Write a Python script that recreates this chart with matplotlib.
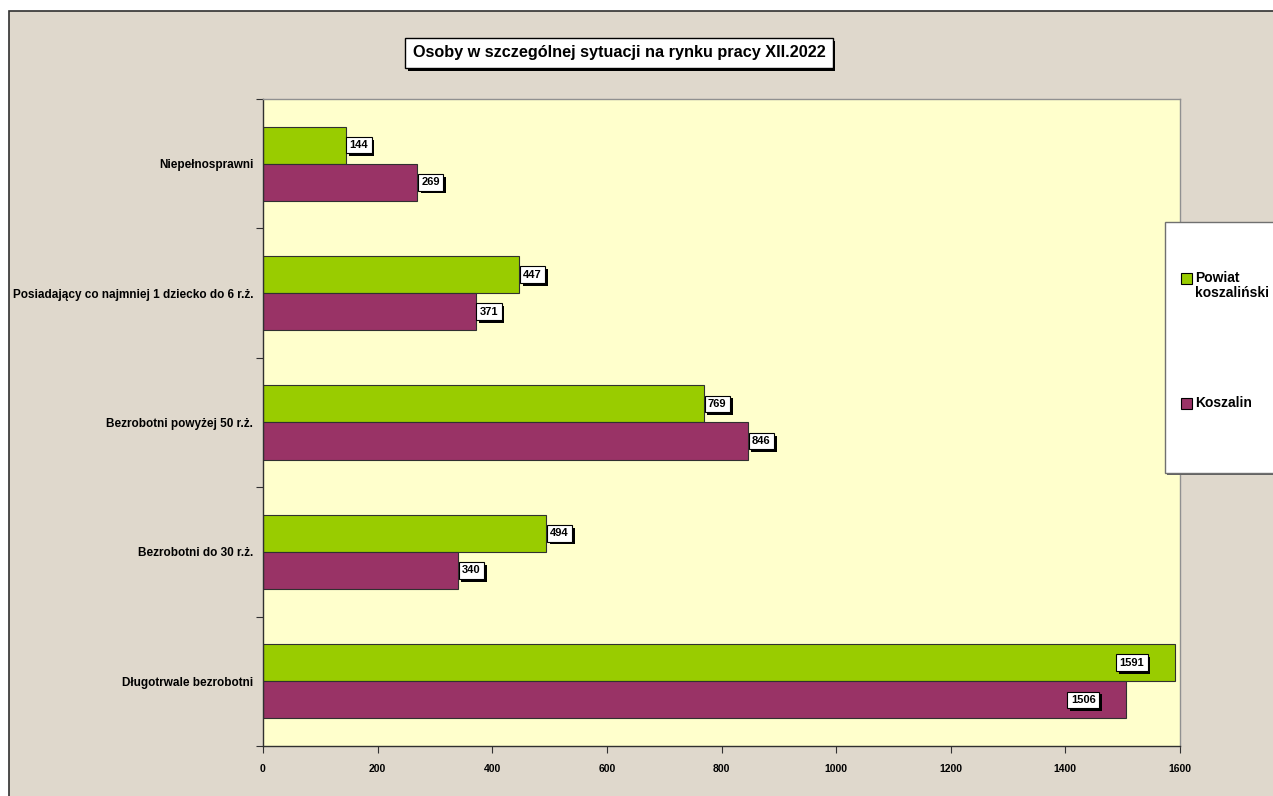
import matplotlib
matplotlib.use("Agg")
import matplotlib.pyplot as plt
from matplotlib.patches import Rectangle
import matplotlib.patheffects as pe
import numpy as np

categories = ["Niepełnosprawni",
              "Posiadający co najmniej 1 dziecko do 6 r.ż.",
              "Bezrobotni powyżej 50 r.ż.",
              "Bezrobotni do 30 r.ż.",
              "Długotrwale bezrobotni"]
powiat = [144, 447, 769, 494, 1591]
koszalin = [269, 371, 846, 340, 1506]
series_names = ["Powiat\nkoszaliński", "Koszalin"]
xticks = [0, 200, 400, 600, 800, 1000, 1200, 1400, 1600]
title = "Osoby w szczególnej sytuacji na rynku pracy XII.2022"

GREEN = "#99cc00"
PURPLE = "#993366"
BEIGE = "#dfd8cc"
PLOTBG = "#ffffcc"

plt.rcParams['font.family'] = ['Liberation Sans', 'DejaVu Sans']

W, H = 1273, 796
fig = plt.figure(figsize=(W/100, H/100), dpi=100)
fig.patch.set_facecolor("white")
fig.patches.append(Rectangle((9/W, -0.01), 1.0, 1.01 - 11/H, transform=fig.transFigure,
                             facecolor=BEIGE, edgecolor="#303030", linewidth=1.2, zorder=-5))

ax = fig.add_axes([263/W, 1 - 746/H, (1180-263)/W, (746-99)/H])
ax.set_zorder(1)
ax.set_facecolor(PLOTBG)

n = len(categories)
y = np.arange(n)
bh = 0.287
ax.barh(y - bh/2, powiat, height=bh, color=GREEN, edgecolor="#303030", linewidth=0.8, zorder=2)
ax.barh(y + bh/2, koszalin, height=bh, color=PURPLE, edgecolor="#303030", linewidth=0.8, zorder=2)
ax.set_ylim(n - 0.5, -0.5)
ax.set_xlim(0, 1600)

ax.set_yticks(np.arange(n + 1) - 0.5)
ax.set_yticklabels([])
ax.set_yticks(y, minor=True)
ax.set_yticklabels(categories, minor=True, fontsize=8.5, fontweight="bold")
ax.tick_params(axis="y", which="minor", length=0, pad=7)
ax.tick_params(axis="y", which="major", length=5, direction="out", color="#303030")
ax.set_xticks(xticks)
ax.set_xticklabels([str(t) for t in xticks], fontsize=7.5, fontweight="bold")
ax.tick_params(axis="x", length=5, direction="out", pad=8, color="#303030")

for s in ["top", "right"]:
    ax.spines[s].set_color("#909090")
    ax.spines[s].set_linewidth(1.0)
for s in ["left", "bottom"]:
    ax.spines[s].set_color("#303030")
    ax.spines[s].set_linewidth(1.0)

shadow = [pe.SimplePatchShadow(offset=(2, -2), shadow_rgbFace="black", alpha=1.0), pe.Normal()]

def label(xv, yv, txt, inside):
    ha = "right" if inside else "left"
    off = -22 if inside else 3
    t = ax.annotate(txt, (xv, yv), xytext=(off, 0), textcoords="offset points",
                    ha=ha, va="center", fontsize=8, fontweight="bold", color="black",
                    bbox=dict(boxstyle="square,pad=0.3", facecolor="white", edgecolor="black",
                              linewidth=0.8), zorder=5)
    t.get_bbox_patch().set_path_effects(shadow)

for i in range(n):
    label(powiat[i], y[i] - bh/2, str(powiat[i]), powiat[i] > 1450)
    label(koszalin[i], y[i] + bh/2, str(koszalin[i]), koszalin[i] > 1450)

# title with shadow
tx, ty = 619/W, 1 - 53/H
tt = fig.text(tx, ty, title, ha="center", va="center", fontsize=11.7, fontweight="bold",
              bbox=dict(boxstyle="square,pad=0.45", facecolor="white", edgecolor="black", linewidth=1.0))
tt.get_bbox_patch().set_path_effects(shadow)

# legend frame
fig.patches.append(Rectangle((1167/W, 1 - 475/H), 120/W, 251/H, transform=fig.transFigure,
                             facecolor="#606060", edgecolor="none", zorder=1))
fig.patches.append(Rectangle((1165/W, 1 - 473/H), 120/W, 251/H, transform=fig.transFigure,
                             facecolor="white", edgecolor="#707070", linewidth=1.0, zorder=2))
for (name, col, yy) in [(series_names[0], GREEN, 279), (series_names[1], PURPLE, 404)]:
    fig.patches.append(Rectangle((1181/W, 1 - (yy + 5)/H), 11/W, 11/H, transform=fig.transFigure,
                                 facecolor=col, edgecolor="black", linewidth=0.8, zorder=3))
    fig.text(1195/W, 1 - (yy - 8)/H, name, ha="left", va="top", fontsize=10, fontweight="bold",
             linespacing=1.1, zorder=4)

fig.savefig("out.png", dpi=100, facecolor=fig.get_facecolor())
